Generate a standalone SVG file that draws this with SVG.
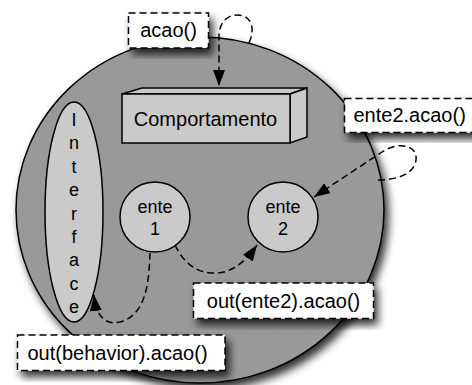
<svg xmlns="http://www.w3.org/2000/svg" width="472" height="385" viewBox="0 0 472 385">
<defs>
<style>
.lbl{fill:#fff;stroke:#000;stroke-width:1.5;stroke-dasharray:7,4;}
.t20{font-family:"Liberation Sans",Arial,sans-serif;font-size:20px;fill:#000;}
.t18{font-family:"Liberation Sans",Arial,sans-serif;font-size:18px;fill:#000;text-anchor:middle;}
.node{fill:#cacaca;stroke:#000;stroke-width:1.5;}
.conn{fill:none;stroke:#000;stroke-width:1.5;stroke-dasharray:7,4;marker-end:url(#arr);}
</style>
<filter id="sh" x="-20%" y="-20%" width="150%" height="150%">
<feDropShadow dx="4" dy="6" stdDeviation="4" flood-color="#000" flood-opacity="0.8"/>
</filter>
<marker id="arr" markerUnits="userSpaceOnUse" markerWidth="17" markerHeight="13" refX="16" refY="6" orient="auto" viewBox="0 0 17 13">
<path d="M0,0 L16,6 L0,12 z" fill="#000"/>
</marker>
</defs>

<g id="container">
<ellipse cx="200" cy="210" rx="184" ry="173" fill="#999" stroke="#000" stroke-width="1.5" filter="url(#sh)"/>
</g>

<g id="interface">
<ellipse cx="74" cy="212" rx="29" ry="110" class="node"/>
<text class="t18"><tspan x="74" y="126">I</tspan><tspan x="74" y="149.4">n</tspan><tspan x="74" y="172.8">t</tspan><tspan x="74" y="196.2">e</tspan><tspan x="74" y="219.6">r</tspan><tspan x="74" y="243">f</tspan><tspan x="74" y="266.4">a</tspan><tspan x="74" y="289.8">c</tspan><tspan x="74" y="313.2">e</tspan></text>
</g>

<g id="comportamento">
<polygon points="122,94 142,88 307,88 290,94" class="node"/>
<polygon points="290,94 307,88 307,137 290,143" class="node"/>
<rect x="122" y="94" width="168" height="49" class="node"/>
<text x="205.5" y="126" class="t20" text-anchor="middle">Comportamento</text>
</g>

<g id="ente1">
<circle cx="155" cy="217" r="35" class="node"/>
<text x="155" y="213" class="t18">ente</text>
<text x="155" y="235" class="t18">1</text>
</g>

<g id="ente2">
<circle cx="283" cy="217" r="35" class="node"/>
<text x="283" y="213" class="t18">ente</text>
<text x="283" y="235" class="t18">2</text>
</g>

<g id="connectors">
<path class="conn" d="M249,43 C255,30 253,15 237,15 C226,15 219,24 219,36 L219,86"/>
<path class="conn" d="M378,180 C395,180 414,175 416,160 C418,145 398,141 382,152 L314,197"/>
<path class="conn" d="M175,245 C185,266 200,274 217,273 C235,272 248,258 257,245"/>
<path class="conn" d="M150,253 C149,280 147,315 120,322 C102,326 96,312 94,295"/>
</g>

<g id="label-acao">
<rect x="128.5" y="13" width="80" height="35" class="lbl" filter="url(#sh)"/>
<text x="168.5" y="37" class="t20" text-anchor="middle">acao()</text>
</g>

<g id="label-ente2-acao">
<rect x="344.5" y="98.5" width="132" height="34" class="lbl" filter="url(#sh)"/>
<text x="353.5" y="122" class="t20">ente2.acao()</text>
</g>

<g id="label-out-ente2">
<rect x="193.5" y="283" width="180" height="35.5" class="lbl" filter="url(#sh)"/>
<text x="283.5" y="307.5" class="t20" text-anchor="middle">out(ente2).acao()</text>
</g>

<g id="label-out-behavior">
<rect x="17.5" y="335" width="207.5" height="35.5" class="lbl" filter="url(#sh)"/>
<text x="117.5" y="360" class="t20" text-anchor="middle">out(behavior).acao()</text>
</g>
</svg>
